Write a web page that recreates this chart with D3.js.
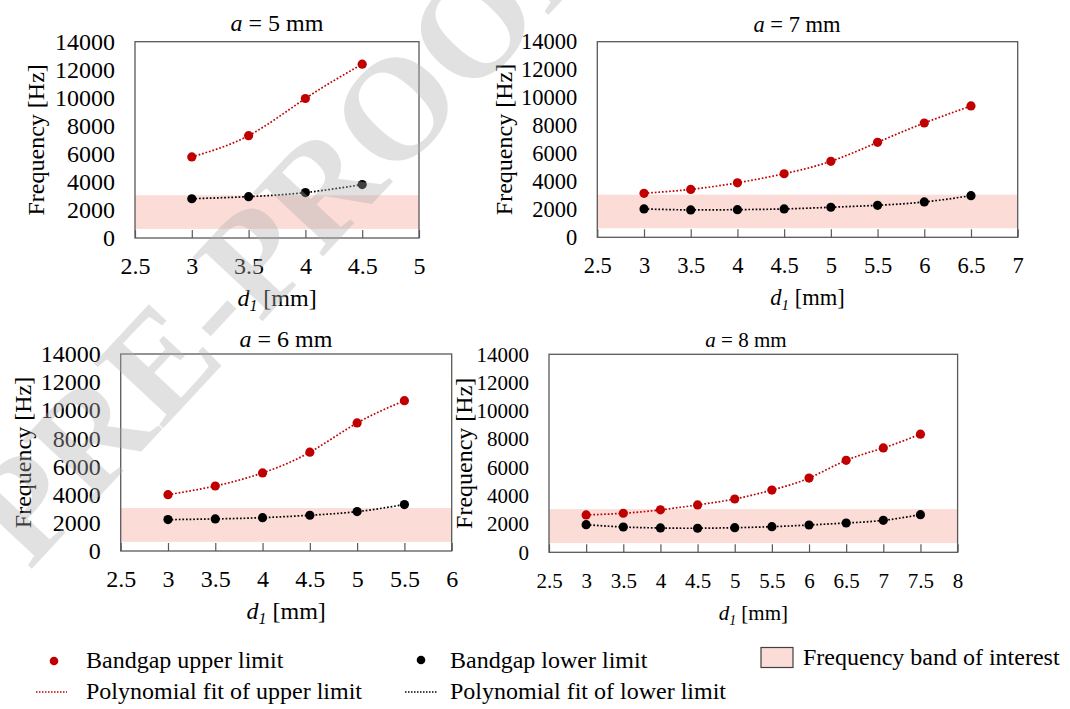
<!DOCTYPE html>
<html>
<head>
<meta charset="utf-8">
<script src="https://cdn.jsdelivr.net/npm/d3@7"></script>
<style>
body{margin:0;background:#fff}
svg text{font-family:"Liberation Serif","Times New Roman",Tinos,serif;fill:#000}
</style>
</head>
<body>
<svg id="chart" width="1070" height="709"></svg>
<script>
// values
var yTicks = [0,2000,4000,6000,8000,10000,12000,14000]
var band = [650,3050]   // frequency band of interest [Hz]

var d1_a5 = [3,3.5,4,4.5]
var up_a5 = [5780,7300,9950,12400]
var lo_a5 = [2800,2950,3240,3810]
var xt_a5 = [2.5,3,3.5,4,4.5,5]

var d1_a7 = [3,3.5,4,4.5,5,5.5,6,6.5]
var up_a7 = [3150,3430,3900,4550,5440,6800,8180,9400]
var lo_a7 = [2030,1960,1980,2030,2150,2290,2530,2980]
var xt_a7 = [2.5,3,3.5,4,4.5,5,5.5,6,6.5,7]

var d1_a6 = [3,3.5,4,4.5,5,5.5]
var up_a6 = [4000,4620,5550,7020,9100,10680]
var lo_a6 = [2230,2280,2370,2540,2800,3300]
var xt_a6 = [2.5,3,3.5,4,4.5,5,5.5,6]

var d1_a8 = [3,3.5,4,4.5,5,5.5,6,6.5,7,7.5]
var up_a8 = [2640,2760,3000,3350,3770,4400,5250,6500,7380,8350]
var lo_a8 = [1950,1790,1720,1700,1740,1810,1930,2070,2260,2660]
var xt_a8 = [2.5,3,3.5,4,4.5,5,5.5,6,6.5,7,7.5,8]

var red = '#c00000', pink = '#fbdcd7', frame = '#595959'

// panel boxes (pixels), fs = tick/title font size
var panels = [
  {a:5, d1:d1_a5, up:up_a5, lo:lo_a5, xt:xt_a5, x0:135, x1:419, y0:41.7, y1:238, ylab:44, tx:277, ty:30.7, fs:24},
  {a:7, d1:d1_a7, up:up_a7, lo:lo_a7, xt:xt_a7, x0:597.3, x1:1017.7, y0:41.7, y1:237.3, ylab:512, tx:797, ty:31.7, fs:22.5},
  {a:6, d1:d1_a6, up:up_a6, lo:lo_a6, xt:xt_a6, x0:120.7, x1:451.7, y0:354, y1:551, ylab:31, tx:286, ty:346.7, fs:24},
  {a:8, d1:d1_a8, up:up_a8, lo:lo_a8, xt:xt_a8, x0:549, x1:957.6, y0:354.3, y1:552.3, ylab:472, tx:746, ty:347.3, fs:21}
]

var svg = d3.select('#chart')

panels.forEach(function(p){
  var xs = d3.scaleLinear().domain([p.xt[0], p.xt[p.xt.length-1]]).range([p.x0,p.x1])
  var ys = d3.scaleLinear().domain([0,14000]).range([p.y1,p.y0])
  var g = svg.append('g')
  var fs = p.fs+'px'

  // band
  g.append('rect')
    .attr('x',p.x0).attr('width',p.x1-p.x0)
    .attr('y',ys(band[1])).attr('height',ys(band[0])-ys(band[1]))
    .attr('fill',pink)

  // frame
  g.append('rect')
    .attr('x',p.x0).attr('y',p.y0)
    .attr('width',p.x1-p.x0).attr('height',p.y1-p.y0)
    .attr('fill','none').attr('stroke',frame).attr('stroke-width',1.3)

  var xax = g.append('g').attr('transform','translate(0,'+p.y1+')')
    .call(d3.axisBottom(xs).tickValues(p.xt).tickSize(-8).tickPadding(36-0.71*p.fs).tickFormat(function(d){return String(d)}))
  var yax = g.append('g').attr('transform','translate('+p.x0+',0)')
    .call(d3.axisLeft(ys).tickValues(yTicks).tickSize(0).tickPadding(20).tickFormat(function(d){return String(d)}))
  ;[xax,yax].forEach(function(ax){
    ax.select('.domain').remove()
    ax.selectAll('line').attr('stroke',frame).attr('stroke-width',1.2)
    ax.selectAll('text').style('font-size',fs).attr('fill','#000')
    ax.attr('font-family',null)
  })

  // fits
  var line = d3.line().x(function(d,i){return xs(p.d1[i])}).y(function(d){return ys(d)}).curve(d3.curveNatural)
  g.append('path').attr('d',line(p.up)).attr('fill','none')
    .attr('stroke',red).attr('stroke-width',1.7).attr('stroke-dasharray','1.7 1.9')
  g.append('path').attr('d',line(p.lo)).attr('fill','none')
    .attr('stroke','#000').attr('stroke-width',1.7).attr('stroke-dasharray','1.7 1.9')

  // points
  g.selectAll('.up').data(p.up).enter().append('circle')
    .attr('cx',function(d,i){return xs(p.d1[i])}).attr('cy',function(d){return ys(d)})
    .attr('r',4.6).attr('fill',red)
  g.selectAll('.lo').data(p.lo).enter().append('circle')
    .attr('cx',function(d,i){return xs(p.d1[i])}).attr('cy',function(d){return ys(d)})
    .attr('r',4.6).attr('fill','#000')

  // title
  var t = g.append('text').attr('x',p.tx).attr('y',p.ty).attr('text-anchor','middle').style('font-size',fs)
  t.append('tspan').attr('font-style','italic').text('a')
  t.append('tspan').text(' = '+p.a+' mm')

  // x label
  var xl = g.append('text').attr('x',(p.x0+p.x1)/2).attr('y',p.y1+68).attr('text-anchor','middle').style('font-size',fs)
  xl.append('tspan').attr('font-style','italic').text('d')
  xl.append('tspan').attr('font-style','italic').style('font-size',(p.fs*0.66)+'px').attr('dy',5).text('1')
  xl.append('tspan').attr('dy',-5).text(' [mm]')

  // y label
  g.append('text')
    .attr('transform','translate('+p.ylab+','+((p.y0+p.y1)/2)+') rotate(-90)')
    .attr('text-anchor','middle').style('font-size','24px')
    .text('Frequency [Hz]')
})

// legend
var lg = svg.append('g').style('font-size','24px')
lg.append('circle').attr('cx',54).attr('cy',661).attr('r',4.3).attr('fill',red)
lg.append('text').attr('x',86).attr('y',668).text('Bandgap upper limit')
lg.append('line').attr('x1',36).attr('x2',67).attr('y1',692).attr('y2',692)
  .attr('stroke',red).attr('stroke-width',1.5).attr('stroke-dasharray','1.5 1.5')
lg.append('text').attr('x',86).attr('y',699).text('Polynomial fit of upper limit')
lg.append('circle').attr('cx',421).attr('cy',660).attr('r',4.3).attr('fill','#000')
lg.append('text').attr('x',450).attr('y',668).text('Bandgap lower limit')
lg.append('line').attr('x1',405).attr('x2',437).attr('y1',692).attr('y2',692)
  .attr('stroke','#000').attr('stroke-width',1.5).attr('stroke-dasharray','1.5 1.5')
lg.append('text').attr('x',450).attr('y',699).text('Polynomial fit of lower limit')
lg.append('rect').attr('x',761).attr('y',647.5).attr('width',32).attr('height',20)
  .attr('fill',pink).attr('stroke','#404040').attr('stroke-width',1.2)
lg.append('text').attr('x',803).attr('y',665).text('Frequency band of interest')

// watermark (drawn over the charts, semi-transparent)
svg.append('text')
  .attr('transform','translate(318,262) rotate(-47)')
  .attr('text-anchor','middle')
  .style('font-size','145px').style('font-weight','bold')
  .style('fill','#adadad').attr('fill-opacity',0.37)
  .text('PRE-PROOF')
</script>
</body>
</html>
